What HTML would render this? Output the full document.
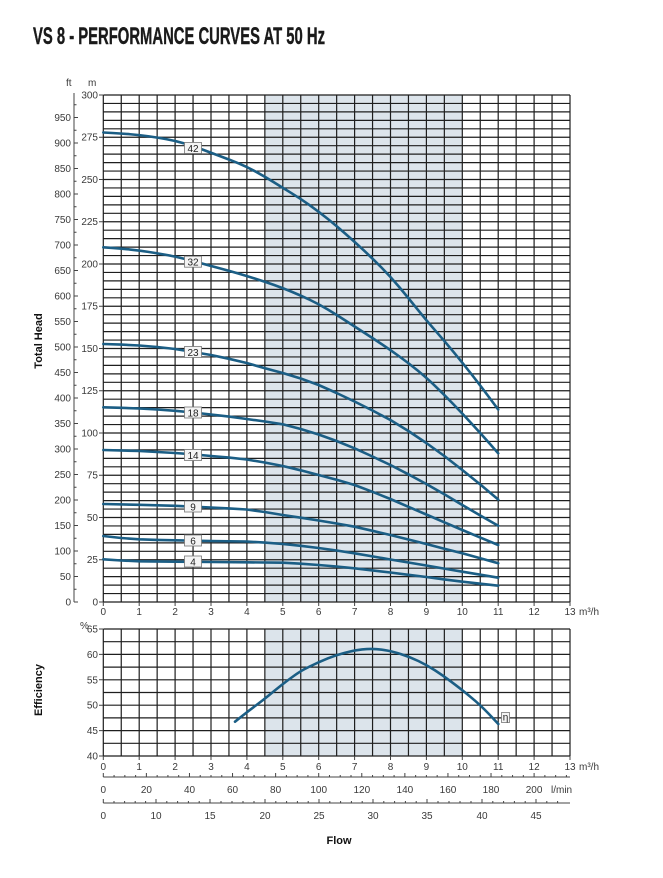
<!DOCTYPE html>
<html>
<head>
<meta charset="utf-8">
<style>
  html,body{margin:0;padding:0;background:#fff;}
  body{width:663px;height:878px;overflow:hidden;}
  svg{display:block;}
  .t{font-family:"Liberation Sans Narrow","Liberation Sans",sans-serif;font-size:10px;fill:#3a3a3a;}
  .b{font-family:"Liberation Sans",sans-serif;font-weight:bold;font-size:11px;fill:#111;}
  .lb{font-family:"Liberation Sans",sans-serif;font-size:10px;fill:#222;}
</style>
</head>
<body>
<svg width="663" height="878" viewBox="0 0 663 878" xmlns="http://www.w3.org/2000/svg">
  <rect width="663" height="878" fill="#fff"/>
  <text x="33" y="44" textLength="292" lengthAdjust="spacingAndGlyphs" font-family="Liberation Sans, sans-serif" font-weight="bold" font-size="24" fill="#1a1a1a" stroke="#1a1a1a" stroke-width="0.4">VS 8 - PERFORMANCE CURVES AT 50 Hz</text>

  <rect x="264.85" y="95" width="197.45" height="507" fill="#dce4eb"/>
  <rect x="264.85" y="629" width="197.45" height="127" fill="#dce4eb"/>

  <g transform="translate(103.3 602) scale(17.95 -8.45)" stroke="#1e1e1e" fill="none">
    <path vector-effect="non-scaling-stroke" stroke-width="1.2" d="M0 0V60M1 0V60M2 0V60M3 0V60M4 0V60M5 0V60M6 0V60M7 0V60M8 0V60M9 0V60M10 0V60M11 0V60M12 0V60M13 0V60M14 0V60M15 0V60M16 0V60M17 0V60M18 0V60M19 0V60M20 0V60M21 0V60M22 0V60M23 0V60M24 0V60M25 0V60M26 0V60"/>
    <path vector-effect="non-scaling-stroke" stroke-width="1.2" d="M0 0H26M0 1H26M0 2H26M0 3H26M0 4H26M0 5H26M0 6H26M0 7H26M0 8H26M0 9H26M0 10H26M0 11H26M0 12H26M0 13H26M0 14H26M0 15H26M0 16H26M0 17H26M0 18H26M0 19H26M0 20H26M0 21H26M0 22H26M0 23H26M0 24H26M0 25H26M0 26H26M0 27H26M0 28H26M0 29H26M0 30H26M0 31H26M0 32H26M0 33H26M0 34H26M0 35H26M0 36H26M0 37H26M0 38H26M0 39H26M0 40H26M0 41H26M0 42H26M0 43H26M0 44H26M0 45H26M0 46H26M0 47H26M0 48H26M0 49H26M0 50H26M0 51H26M0 52H26M0 53H26M0 54H26M0 55H26M0 56H26M0 57H26M0 58H26M0 59H26M0 60H26"/>
  </g>

  <g transform="translate(103.3 756) scale(17.95 -12.7)" stroke="#1e1e1e" fill="none">
    <path vector-effect="non-scaling-stroke" stroke-width="1.2" d="M0 0V10M1 0V10M2 0V10M3 0V10M4 0V10M5 0V10M6 0V10M7 0V10M8 0V10M9 0V10M10 0V10M11 0V10M12 0V10M13 0V10M14 0V10M15 0V10M16 0V10M17 0V10M18 0V10M19 0V10M20 0V10M21 0V10M22 0V10M23 0V10M24 0V10M25 0V10M26 0V10"/>
    <path vector-effect="non-scaling-stroke" stroke-width="1.2" d="M0 0H26M0 1H26M0 2H26M0 3H26M0 4H26M0 5H26M0 6H26M0 7H26M0 8H26M0 9H26M0 10H26"/>
  </g>

  <g stroke="#444" stroke-width="1">
    <path d="M99 95H103M99 137.25H103M99 179.5H103M99 221.75H103M99 264H103M99 306.25H103M99 348.5H103M99 390.75H103M99 433H103M99 475.25H103M99 517.5H103M99 559.75H103M99 602H103"/>
    <path d="M99 629H103M99 654.4H103M99 679.8H103M99 705.2H103M99 730.6H103M99 756H103"/>
    <path d="M103.3 602V606M139.2 602V606M175.1 602V606M211 602V606M246.9 602V606M282.8 602V606M318.7 602V606M354.6 602V606M390.5 602V606M426.4 602V606M462.3 602V606M498.2 602V606M534.1 602V606M570 602V606"/>
    <path d="M103.3 756V760M139.2 756V760M175.1 756V760M211 756V760M246.9 756V760M282.8 756V760M318.7 756V760M354.6 756V760M390.5 756V760M426.4 756V760M462.3 756V760M498.2 756V760M534.1 756V760M570 756V760"/>
  </g>
  <g class="t" text-anchor="end">
    <text x="98" y="98.5">300</text><text x="98" y="140.7">275</text><text x="98" y="183">250</text>
    <text x="98" y="225.2">225</text><text x="98" y="267.5">200</text><text x="98" y="309.7">175</text>
    <text x="98" y="352">150</text><text x="98" y="394.2">125</text><text x="98" y="436.5">100</text>
    <text x="98" y="478.7">75</text><text x="98" y="521">50</text><text x="98" y="563.2">25</text>
    <text x="98" y="605.5">0</text>
    <text x="98" y="632.5">65</text><text x="98" y="657.9">60</text><text x="98" y="683.3">55</text>
    <text x="98" y="708.7">50</text><text x="98" y="734.1">45</text><text x="98" y="759.5">40</text>
  </g>
  <text class="t" x="88" y="86">m</text>
  <text class="t" x="66" y="86">ft</text>
  <text class="t" x="80" y="629">%</text>

  <line x1="74" y1="93" x2="74" y2="602" stroke="#444" stroke-width="1"/>
  <g stroke="#444" stroke-width="1">
    <path d="M74 602H78M74 576.5H78M74 551H78M74 525.5H78M74 500H78M74 474.5H78M74 449H78M74 423.5H78M74 398H78M74 372.5H78M74 347H78M74 321.5H78M74 296H78M74 270.5H78M74 245H78M74 219.5H78M74 194H78M74 168.5H78M74 143H78M74 117.5H78"/>
    <path d="M74 589.25H76.5M74 563.75H76.5M74 538.25H76.5M74 512.75H76.5M74 487.25H76.5M74 461.75H76.5M74 436.25H76.5M74 410.75H76.5M74 385.25H76.5M74 359.75H76.5M74 334.25H76.5M74 308.75H76.5M74 283.25H76.5M74 257.75H76.5M74 232.25H76.5M74 206.75H76.5M74 181.25H76.5M74 155.75H76.5M74 130.25H76.5M74 104.75H76.5"/>
  </g>
  <g class="t" text-anchor="end">
    <text x="71" y="605.5">0</text><text x="71" y="580">50</text><text x="71" y="554.5">100</text>
    <text x="71" y="529">150</text><text x="71" y="503.5">200</text><text x="71" y="478">250</text>
    <text x="71" y="452.5">300</text><text x="71" y="427">350</text><text x="71" y="401.5">400</text>
    <text x="71" y="376">450</text><text x="71" y="350.5">500</text><text x="71" y="325">550</text>
    <text x="71" y="299.5">600</text><text x="71" y="274">650</text><text x="71" y="248.5">700</text>
    <text x="71" y="223">750</text><text x="71" y="197.5">800</text><text x="71" y="172">850</text>
    <text x="71" y="146.5">900</text><text x="71" y="121">950</text>
  </g>

  <g class="t" text-anchor="middle">
    <text x="103.3" y="615">0</text><text x="139.2" y="615">1</text><text x="175.1" y="615">2</text>
    <text x="211" y="615">3</text><text x="246.9" y="615">4</text><text x="282.8" y="615">5</text>
    <text x="318.7" y="615">6</text><text x="354.6" y="615">7</text><text x="390.5" y="615">8</text>
    <text x="426.4" y="615">9</text><text x="462.3" y="615">10</text><text x="498.2" y="615">11</text>
    <text x="534.1" y="615">12</text><text x="570" y="615">13</text>
  </g>
  <text class="t" x="579" y="615">m³/h</text>
  <g class="t" text-anchor="middle">
    <text x="103.3" y="770">0</text><text x="139.2" y="770">1</text><text x="175.1" y="770">2</text>
    <text x="211" y="770">3</text><text x="246.9" y="770">4</text><text x="282.8" y="770">5</text>
    <text x="318.7" y="770">6</text><text x="354.6" y="770">7</text><text x="390.5" y="770">8</text>
    <text x="426.4" y="770">9</text><text x="462.3" y="770">10</text><text x="498.2" y="770">11</text>
    <text x="534.1" y="770">12</text><text x="570" y="770">13</text>
  </g>
  <text class="t" x="579" y="770">m³/h</text>

  <line x1="103.3" y1="777" x2="570" y2="777" stroke="#444" stroke-width="1"/>
  <g transform="translate(103.3 777) scale(2.154 1)" stroke="#444" fill="none">
    <path vector-effect="non-scaling-stroke" d="M0 0v-4M20 0v-4M40 0v-4M60 0v-4M80 0v-4M100 0v-4M120 0v-4M140 0v-4M160 0v-4M180 0v-4M200 0v-4"/>
    <path vector-effect="non-scaling-stroke" d="M5 0v-2M10 0v-2M15 0v-2M25 0v-2M30 0v-2M35 0v-2M45 0v-2M50 0v-2M55 0v-2M65 0v-2M70 0v-2M75 0v-2M85 0v-2M90 0v-2M95 0v-2M105 0v-2M110 0v-2M115 0v-2M125 0v-2M130 0v-2M135 0v-2M145 0v-2M150 0v-2M155 0v-2M165 0v-2M170 0v-2M175 0v-2M185 0v-2M190 0v-2M195 0v-2M205 0v-2M210 0v-2M215 0v-2"/>
  </g>
  <g class="t" text-anchor="middle">
    <text x="103.3" y="793">0</text><text x="146.4" y="793">20</text><text x="189.5" y="793">40</text>
    <text x="232.5" y="793">60</text><text x="275.6" y="793">80</text><text x="318.7" y="793">100</text>
    <text x="361.8" y="793">120</text><text x="404.9" y="793">140</text><text x="448" y="793">160</text>
    <text x="491" y="793">180</text><text x="534.1" y="793">200</text>
  </g>
  <text class="t" x="551" y="793">l/min</text>

  <line x1="103.3" y1="803" x2="570" y2="803" stroke="#444" stroke-width="1"/>
  <g stroke="#444" stroke-width="1">
    <path d="M103.3 803v-4M156 803v-4M210 803v-4M265 803v-4M319 803v-4M373 803v-4M427 803v-4M482 803v-4M536 803v-4"/>
    <path d="M114 803v-2M124.6 803v-2M135.2 803v-2M145.6 803v-2M166.8 803v-2M177.6 803v-2M188.4 803v-2M199.2 803v-2M221 803v-2M232 803v-2M243 803v-2M254 803v-2M275.8 803v-2M286.6 803v-2M297.4 803v-2M308.2 803v-2M329.8 803v-2M340.6 803v-2M351.4 803v-2M362.2 803v-2M383.8 803v-2M394.6 803v-2M405.4 803v-2M416.2 803v-2M438 803v-2M449 803v-2M460 803v-2M471 803v-2M492.8 803v-2M503.6 803v-2M514.4 803v-2M525.2 803v-2M546.8 803v-2M557.6 803v-2"/>
  </g>
  <g class="t" text-anchor="middle">
    <text x="103.3" y="819">0</text><text x="156" y="819">10</text><text x="210" y="819">15</text>
    <text x="265" y="819">20</text><text x="319" y="819">25</text><text x="373" y="819">30</text>
    <text x="427" y="819">35</text><text x="482" y="819">40</text><text x="536" y="819">45</text>
  </g>

  <text class="b" x="339" y="844" text-anchor="middle">Flow</text>
  <text class="b" transform="translate(42 341) rotate(-90)" text-anchor="middle">Total Head</text>
  <text class="b" transform="translate(42 690) rotate(-90)" text-anchor="middle">Efficiency</text>

  <g fill="none" stroke="#1b5e85" stroke-width="2.6" stroke-linejoin="round" stroke-linecap="round">
    <path d="M103.3,132.5 L112.25,133 Q121.2,133.5 130.2,134.25 Q139.2,135 148.2,136.25 Q157.2,137.5 166.15,139.1 Q175.1,140.7 184.05,143.35 Q193,146 202,149.4 Q211,152.8 220,156.15 Q229,159.5 237.85,163.1 Q246.7,166.7 255.85,171.7 Q265,176.7 273.85,182.25 Q282.7,187.8 291.35,193.05 Q300,198.3 309.3,204.9 Q318.6,211.5 327.6,218.75 Q336.6,226 345.55,233.85 Q354.5,241.7 363.5,250.1 Q372.5,258.5 381.45,267.5 Q390.4,276.5 399.4,287.25 Q408.4,298 417.35,309.15 Q426.3,320.3 435.3,330.55 Q444.3,340.8 453.3,351.65 Q462.3,362.5 471.3,374 Q480.3,385.5 489.25,397.5 L498.2,409.5"/>
    <path d="M103.3,247.3 L112.25,247.95 Q121.2,248.6 130.2,249.55 Q139.2,250.5 148.2,251.9 Q157.2,253.3 166.15,254.9 Q175.1,256.5 184.05,258.75 Q193,261 202,263.5 Q211,266 220,268.4 Q229,270.8 237.85,273.4 Q246.7,276 255.85,278.85 Q265,281.7 273.85,284.85 Q282.7,288 291.7,291.75 Q300.7,295.5 309.65,299.75 Q318.6,304 327.6,309.4 Q336.6,314.8 345.55,320.65 Q354.5,326.5 363.5,332.25 Q372.5,338 381.45,344 Q390.4,350 399.4,356.5 Q408.4,363 417.35,370.25 Q426.3,377.5 435.3,386.15 Q444.3,394.8 453.3,404.15 Q462.3,413.5 471.3,423.25 Q480.3,433 489.25,443.15 L498.2,453.3"/>
    <polyline points="103.3,344 121.2,344.6 139.2,345.5 157.2,347 175.1,349 193,352 211,355 229,358.8 246.7,363 265,368.3 282.7,373 300.7,378.5 318.6,385 336.6,393 354.5,401.5 372.5,410.5 390.4,420 408.4,431 426.3,443 444.3,456 462.3,470 480.3,484.5 498.2,499.5"/>
    <polyline points="103.3,407.3 121.2,407.8 139.2,408.5 157.2,409.5 175.1,410.8 193,412.5 211,414.5 229,416.6 246.7,419 265,421.5 282.7,424.3 300.7,429 318.6,434.5 336.6,441 354.5,448.3 372.5,456.5 390.4,465 408.4,474.3 426.3,484 444.3,494.3 462.3,505 480.3,515.5 498.2,525.7"/>
    <polyline points="103.3,450 139.2,451 175.1,453 193,454.3 211,456 229,457.6 246.7,459.5 264.7,462.5 282.7,466 300.7,470.3 318.6,475 336.6,479.8 354.5,485 372.5,491.8 390.4,499 408.4,506.8 426.3,514.5 444.3,522.3 462.3,530 480.3,537.6 498.2,545"/>
    <polyline points="103.3,504 139.2,504.8 175.1,505.8 211,507.5 229,508.4 246.7,509.5 264.7,512 282.7,515 300.7,517.7 318.6,520.5 336.6,523.5 354.5,526.7 372.5,530.8 390.4,535 408.4,539.5 426.3,544 444.3,548.7 462.3,553.3 480.3,558.3 498.2,563.3"/>
    <polyline points="103.3,536 121.2,538 139.2,539.3 157.2,539.9 175.1,540.3 211,541 246.7,541.5 264.7,542.6 282.7,544 300.7,545.8 318.6,548 336.6,550.5 354.5,553.3 372.5,556.4 390.4,559.5 408.4,562.5 426.3,565.5 444.3,568.6 462.3,571.7 480.3,574.7 498.2,577.7"/>
    <polyline points="103.3,559.3 121.2,560.5 139.2,561.3 175.1,561.7 211,562 246.7,562.3 282.7,562.7 300.7,563.7 318.6,565 336.6,566.5 354.5,568.3 372.5,570.4 390.4,572.5 408.4,574.8 426.3,577 444.3,579.4 462.3,581.7 480.3,583.7 498.2,585.7"/>
    <path d="M235,721.7 L242,716.1 Q249,710.5 256.15,705.25 Q263.3,700 269.15,695.15 Q275,690.3 280.85,685.65 Q286.7,681 293.35,676.25 Q300,671.5 305,668.9 Q310,666.3 315,664 Q320,661.7 328,658.35 Q336,655 344.65,652.85 Q353.3,650.7 357.65,650.05 Q362,649.4 366.85,649.05 Q371.7,648.7 376.85,649.15 Q382,649.6 387.65,650.65 Q393.3,651.7 401.65,654.35 Q410,657 418.35,661 Q426.7,665 434.85,670.25 Q443,675.5 451.5,681.9 Q460,688.3 465,692.35 Q470,696.4 475,700.7 Q480,705 484.5,709.5 Q489,714 493.65,719 L498.3,724"/>
  </g>

  <g>
    <rect x="184.5" y="142.5" width="17" height="11" fill="#f4f4f4" stroke="#777" stroke-width="0.8"/>
    <text class="lb" x="193" y="151.8" text-anchor="middle">42</text>
    <rect x="184.5" y="256.2" width="17" height="11" fill="#f4f4f4" stroke="#777" stroke-width="0.8"/>
    <text class="lb" x="193" y="265.5" text-anchor="middle">32</text>
    <rect x="184.5" y="346.5" width="17" height="11" fill="#f4f4f4" stroke="#777" stroke-width="0.8"/>
    <text class="lb" x="193" y="355.8" text-anchor="middle">23</text>
    <rect x="184.5" y="407" width="17" height="11" fill="#f4f4f4" stroke="#777" stroke-width="0.8"/>
    <text class="lb" x="193" y="416.3" text-anchor="middle">18</text>
    <rect x="184.5" y="449.5" width="17" height="11" fill="#f4f4f4" stroke="#777" stroke-width="0.8"/>
    <text class="lb" x="193" y="458.8" text-anchor="middle">14</text>
    <rect x="184.5" y="501" width="17" height="11" fill="#f4f4f4" stroke="#777" stroke-width="0.8"/>
    <text class="lb" x="193" y="510.3" text-anchor="middle">9</text>
    <rect x="184.5" y="535" width="17" height="11" fill="#f4f4f4" stroke="#777" stroke-width="0.8"/>
    <text class="lb" x="193" y="544.3" text-anchor="middle">6</text>
    <rect x="184.5" y="556" width="17" height="11" fill="#f4f4f4" stroke="#777" stroke-width="0.8"/>
    <text class="lb" x="193" y="565.3" text-anchor="middle">4</text>
    <rect x="501.5" y="712.5" width="8" height="10" fill="#f4f4f4" stroke="#777" stroke-width="0.8"/>
    <text class="lb" x="505.5" y="720.5" text-anchor="middle" font-size="9">η</text>
  </g>
</svg>
</body>
</html>
